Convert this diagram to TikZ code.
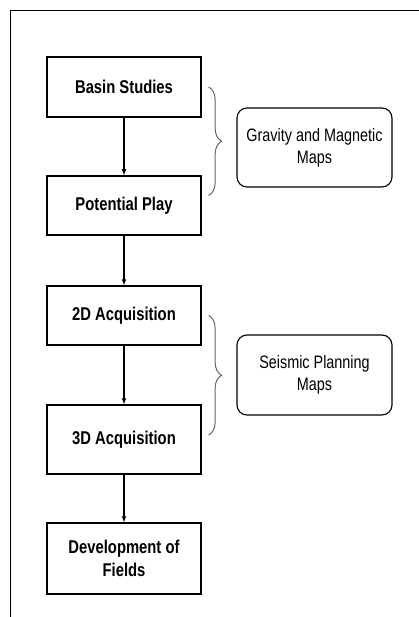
\documentclass[tikz,border=0pt]{standalone}
\usepackage{fontspec}
\setmainfont{Liberation Sans}[FakeStretch=0.8]
\usepackage{tikz}
\usetikzlibrary{arrows,positioning,decorations.pathreplacing}

\begin{document}
\begin{tikzpicture}[x=1pt,y=-1pt]
	\tikzstyle{stage}=[draw=black, line width=1.3pt, minimum width=154pt, align=center, inner sep=2pt, font=\fontsize{18.5}{23}\selectfont\bfseries]
	\tikzstyle{mapbox}=[draw=black, line width=1.1pt, rounded corners=10pt, minimum width=155pt, align=center, font=\fontsize{18}{22}\selectfont]
	\tikzstyle{flow}=[->, >=latex, line width=1.1pt]
	\tikzstyle{grp}=[decorate, decoration={brace, amplitude=13pt}, draw=black!60, line width=1pt]
	\useasboundingbox (0,0) rectangle (419,617);
	% frame
	\draw [line width=1.3pt] (419,10.5) -- (10.5,10.5) -- (10.5,617);
	% stages
	\node [stage, minimum height=60pt] (basin) at (124,87) {Basin Studies};
	\node [stage, minimum height=59pt] (play) at (124,205.5) {Potential Play};
	\node [stage, minimum height=59pt] (acq2) at (124,315.5) {2D Acquisition};
	\node [stage, minimum height=69pt] (acq3) at (124,439.5) {3D Acquisition};
	\node [stage, minimum height=71pt] (devel) at (124,558.5) {Development of\\Fields};
	\draw [flow] (basin) -- (play);
	\draw [flow] (play) -- (acq2);
	\draw [flow] (acq2) -- (acq3);
	\draw [flow] (acq3) -- (devel);
	% maps
	\node [mapbox, minimum height=79pt] (gravmag) at (314.5,147.5) {Gravity and Magnetic\\Maps};
	\node [mapbox, minimum height=80pt] (seismic) at (314.5,375) {Seismic Planning\\Maps};
	\draw [grp] ([xshift=7pt]basin.east) -- ([xshift=7pt,yshift=10pt]play.east);
	\draw [grp] ([xshift=7pt]acq2.east) -- ([xshift=7pt,yshift=4.5pt]acq3.east);
\end{tikzpicture}
\end{document}
